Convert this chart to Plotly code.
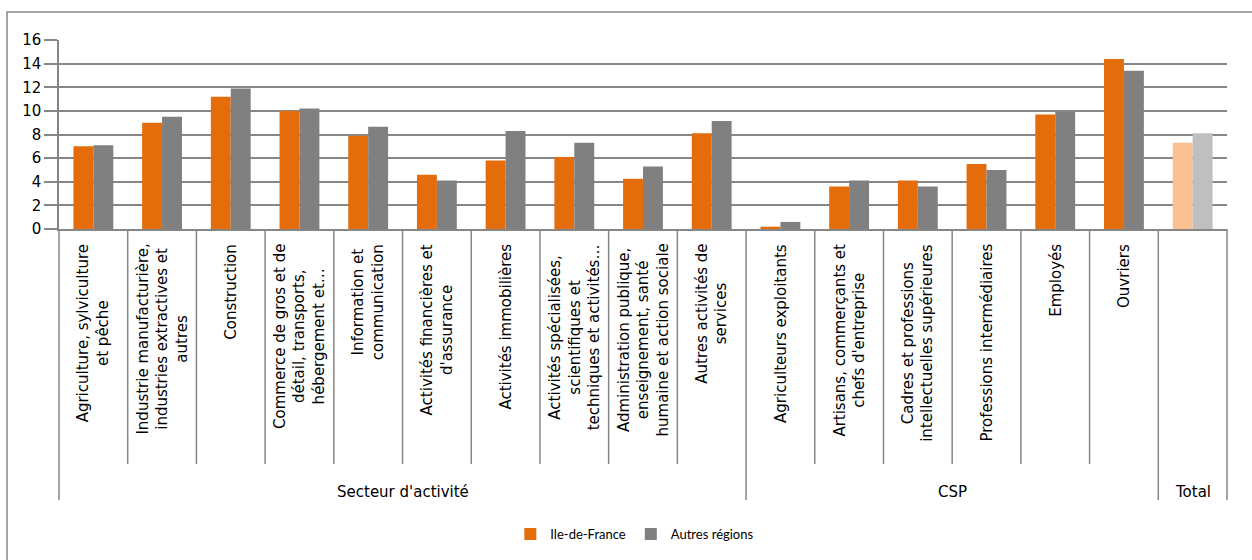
import plotly.graph_objects as go

categories = [
    "Agriculture, sylviculture<br>et pêche",
    "Industrie manufacturière,<br>industries extractives et<br>autres",
    "Construction",
    "Commerce de gros et de<br>détail, transports,<br>hébergement et…",
    "Information et<br>communication",
    "Activités financières et<br>d'assurance",
    "Activités immobilières",
    "Activités spécialisées,<br>scientifiques et<br>techniques et activités…",
    "Administration publique,<br>enseignement, santé<br>humaine et action sociale",
    "Autres activités de<br>services",
    "Agriculteurs exploitants",
    "Artisans, commerçants et<br>chefs d'entreprise",
    "Cadres et professions<br>intellectuelles supérieures",
    "Professions intermédiaires",
    "Employés",
    "Ouvriers",
    "",
]
groups = ["Secteur d'activité"] * 10 + ["CSP"] * 6 + ["Total"]

ile_de_france = [7.0, 9.0, 11.2, 10.0, 7.9, 4.6, 5.8, 6.1, 4.25, 8.1,
                 0.2, 3.6, 4.1, 5.5, 9.7, 14.4, 7.3]
autres_regions = [7.1, 9.5, 11.9, 10.2, 8.65, 4.1, 8.3, 7.3, 5.3, 9.15,
                  0.6, 4.1, 3.6, 5.0, 9.9, 13.4, 8.1]

series_names = ["Ile-de-France", "Autres régions"]
tick_vals = [0, 2, 4, 6, 8, 10, 12, 14, 16]

n = len(categories)
xs = list(range(n))
ORANGE, ORANGE_L = "#E46C0A", "#FAC090"
GRAY, GRAY_L = "#808080", "#BFBFBF"
LINE = "#868686"
FONT = "DejaVu Sans"

c1 = [ORANGE_L if g == "Total" else ORANGE for g in groups]
c2 = [GRAY_L if g == "Total" else GRAY for g in groups]

fig = go.Figure()
fig.add_trace(go.Bar(x=xs, y=ile_de_france, name=series_names[0],
                     marker=dict(color=c1, line=dict(width=0))))
fig.add_trace(go.Bar(x=xs, y=autres_regions, name=series_names[1],
                     marker=dict(color=c2, line=dict(width=0))))

# geometry helpers (plot area 189 px tall)
PH = 189.0
def py(px_below_axis):
    return -px_below_axis / PH

shapes = []
annotations = []

# group boundaries
bounds = [0]
for i in range(1, n):
    if groups[i] != groups[i - 1]:
        bounds.append(i)
bounds.append(n)

for k in range(n + 1):
    y1 = py(271) if k in bounds else py(235)
    shapes.append(dict(type="line", xref="paper", yref="paper",
                       x0=k / n, x1=k / n, y0=0, y1=y1,
                       line=dict(color=LINE, width=1.5)))

for i, lab in enumerate(categories):
    if lab:
        annotations.append(dict(x=i, y=py(13), xref="x", yref="paper",
                                text=lab, textangle=-90, showarrow=False,
                                xanchor="center", yanchor="top", align="center",
                                font=dict(family=FONT, size=15, color="#000")))

for b0, b1 in zip(bounds[:-1], bounds[1:]):
    annotations.append(dict(x=(b0 + b1) / 2 / n, y=py(263), xref="paper", yref="paper",
                            text=groups[b0], showarrow=False,
                            xanchor="center", yanchor="middle",
                            font=dict(family=FONT, size=15, color="#000")))

# outer chart border
shapes.append(dict(type="rect", xref="paper", yref="paper",
                   x0=(7 - 59) / 1168, x1=1.05, y0=(229 - 12) / PH, y1=-2.0,
                   line=dict(color=LINE, width=1.5), fillcolor="rgba(0,0,0,0)"))

fig.update_layout(
    width=1252, height=560,
    margin=dict(l=59, r=25, t=40, b=331),
    paper_bgcolor="white", plot_bgcolor="white",
    barmode="group", bargap=0.42, bargroupgap=0,
    showlegend=True,
    legend=dict(orientation="h", x=0.493, xanchor="center", y=py(305), yanchor="middle",
                font=dict(family="Lato", size=13, color="#000"),
                itemwidth=30, bgcolor="rgba(0,0,0,0)"),
    xaxis=dict(range=[-0.5, n - 0.5], showticklabels=False, showgrid=False,
               zeroline=False, showline=True, linecolor=LINE, linewidth=1.5,
               ticks=""),
    yaxis=dict(range=[0, 16], tickvals=tick_vals, showgrid=True, gridcolor=LINE,
               gridwidth=1.5, zeroline=False, showline=True, linecolor=LINE,
               linewidth=1.5, ticks="outside", ticklen=13, tickcolor=LINE,
               tickwidth=1.5,
               tickfont=dict(family=FONT, size=15, color="#000")),
    shapes=shapes,
    annotations=annotations,
)

fig.write_html("out.html")
